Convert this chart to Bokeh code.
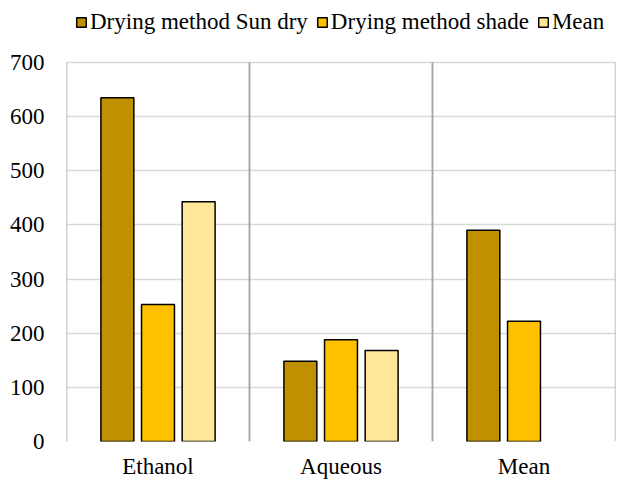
from bokeh.plotting import figure
from bokeh.models import ColumnDataSource, FactorRange, Range1d, FixedTicker, Legend, LegendItem
from bokeh.transform import dodge
from bokeh.embed import file_html
from bokeh.resources import INLINE
import math

categories = ["Ethanol", "Aqueous", "Mean"]
sun_dry = [635, 148, 390]
shade = [253, 188, 222]
mean_vals = [443, 168, math.nan]
series_names = ["Drying method Sun dry", "Drying method shade", "Mean"]
colors = ["#BF9000", "#FFC000", "#FFE699"]
y_ticks = [0, 100, 200, 300, 400, 500, 600, 700]

source = ColumnDataSource(dict(cat=categories, sun=sun_dry, shade=shade, mean=mean_vals,
                               y0=[0] * len(categories), y1=[y_ticks[-1]] * len(categories)))

FONT = "Times New Roman"
Y_TOP = y_ticks[-1] * 441 / 379  # frame extends above the 700 line to hold the legend

p = figure(x_range=FactorRange(*categories, range_padding=0), y_range=Range1d(0, Y_TOP),
           frame_width=549, frame_height=441, output_backend="svg", toolbar_location=None,
           min_border_left=66, min_border_right=5, min_border_top=0, min_border_bottom=38)
p.outline_line_color = None
p.background_fill_color = "white"
p.border_fill_color = "white"

# vertical separators at category boundaries (left and right edges of each category)
for off in (-0.5, 0.5):
    p.segment(x0=dodge("cat", off, range=p.x_range), x1=dodge("cat", off, range=p.x_range),
              y0="y0", y1="y1", source=source, line_color="#a6a6a6", line_width=1.5)

renderers = []
for col, off, color in zip(["sun", "shade", "mean"], [-0.222, 0.0, 0.222], colors):
    r = p.vbar(x=dodge("cat", off, range=p.x_range), top=col, width=0.18, source=source,
               fill_color=color, line_color="black", line_width=1.5)
    renderers.append(r)

# axes
p.yaxis.ticker = FixedTicker(ticks=y_ticks)
p.yaxis.major_tick_line_color = None
p.yaxis.minor_tick_line_color = None
p.yaxis.major_tick_out = 0
p.yaxis.axis_line_color = None
p.yaxis.major_label_text_font = FONT
p.yaxis.major_label_text_font_size = "23px"
p.yaxis.major_label_text_color = "black"
p.yaxis.major_label_standoff = 22

p.xaxis.major_tick_line_color = None
p.xaxis.major_tick_out = 0
p.xaxis.axis_line_color = None
p.xaxis.major_label_text_font = FONT
p.xaxis.major_label_text_font_size = "23px"
p.xaxis.major_label_text_color = "black"
p.xaxis.major_label_standoff = 12

p.xgrid.grid_line_color = None
p.ygrid.grid_line_color = "#d9d9d9"
p.ygrid.grid_line_width = 1.5
p.ygrid.level = "underlay"

legend = Legend(items=[LegendItem(label=n, renderers=[r]) for n, r in zip(series_names, renderers)],
                orientation="horizontal", location=(9, 406),
                label_text_font=FONT, label_text_font_size="23px", label_text_color="black",
                glyph_width=12, glyph_height=12, label_standoff=3, spacing=8,
                padding=0, margin=0, border_line_color=None, background_fill_alpha=0)
p.add_layout(legend, "center")

open("out.html", "w").write(file_html(p, INLINE))
